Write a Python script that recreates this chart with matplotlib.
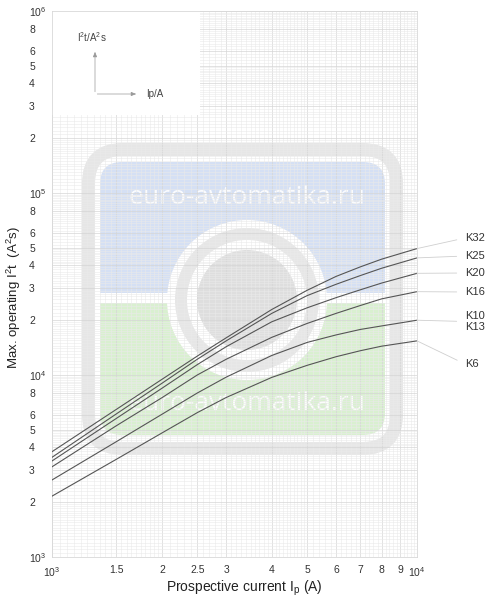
import numpy as np
import matplotlib
matplotlib.use("Agg")
import matplotlib.pyplot as plt
from matplotlib.patches import FancyBboxPatch, Rectangle, Circle
from matplotlib.ticker import NullFormatter

plt.rcParams['font.family'] = ['Liberation Sans', 'DejaVu Sans']
plt.rcParams['mathtext.fontset'] = 'custom'
plt.rcParams['mathtext.rm'] = 'Liberation Sans'
plt.rcParams['mathtext.it'] = 'Liberation Sans:italic'

# prospective current (A) and max. let-through I2t (A2s)
current = [1000, 1500, 2000, 2500, 3000, 4000, 5000, 6000, 7000, 8000, 10000]
k32 = [3790, 6470, 9460, 12700, 16000, 22900, 29200, 34800, 39300, 43300, 49500]
k25 = [3530, 6110, 9000, 12200, 15400, 21800, 27300, 31500, 35200, 38600, 44000]
k20 = [3370, 5770, 8450, 11400, 14300, 19600, 23400, 26600, 29400, 32000, 36200]
k16 = [3130, 5260, 7500, 10000, 12200, 16100, 19200, 21800, 24100, 26200, 28700]
k10 = [2650, 4300, 6080, 7960, 9730, 12800, 15100, 16600, 17800, 18600, 20000]
k6 = [2160, 3440, 4800, 6210, 7520, 9700, 11300, 12600, 13600, 14400, 15400]

curves = [k32, k25, k20, k16, k10, k6]
curve_names = ['K32', 'K25', 'K20', 'K16', 'K10\nK13', 'K6']
label_y_px = [238, 256, 273, 292, 321.5, 364]   # label positions, figure pixels from top

x_ticks = [1000, 1500, 2000, 2500, 3000, 4000, 5000, 6000, 7000, 8000, 9000, 10000]
x_labels = [r'$\mathregular{10^{3}}$', '1.5', '2', '2.5', '3', '4', '5', '6', '7', '8', '9',
            r'$\mathregular{10^{4}}$']
y_mult = [1, 2, 3, 4, 5, 6, 8]

W, H = 486, 600
fig = plt.figure(figsize=(W / 100, H / 100), dpi=100)

# watermark (pixel coordinates)
bg = fig.add_axes([0, 0, 1, 1], zorder=0)
bg.set_xlim(0, W)
bg.set_ylim(H, 0)
bg.axis('off')
blue = FancyBboxPatch((100, 162), 285, 273, boxstyle='round,pad=0,rounding_size=22',
                      fc='#d5e0f4', ec='none')
bg.add_patch(blue)
blue.set_clip_path(Rectangle((90, 150), 310, 143, transform=bg.transData))
green = FancyBboxPatch((100, 162), 285, 273, boxstyle='round,pad=0,rounding_size=22',
                       fc='#d9f0d0', ec='none')
bg.add_patch(green)
green.set_clip_path(Rectangle((90, 303), 310, 150, transform=bg.transData))
bg.add_patch(FancyBboxPatch((88.5, 149.5), 308, 299, boxstyle='round,pad=0,rounding_size=34',
                            fill=False, ec='#e6e6e6', lw=9.4))
for r, c in [(80, 'white'), (72, '#e6e6e6'), (60, 'white'), (50, '#dedede')]:
    bg.add_patch(Circle((247, 300), r, fc=c, ec='none'))
for ty in [197, 403]:
    bg.text(247, ty, 'euro-avtomatika.ru', color='white', fontsize=19, ha='center',
            va='center', family='Open Sans', alpha=0.9)

# main axes
ax = fig.add_axes([52 / W, 1 - 557 / H, 365 / W, 546 / H], zorder=1)
ax.set_facecolor('none')
ax.set_xscale('log')
ax.set_yscale('log')
ax.set_xlim(1000, 10000)
ax.set_ylim(1e3, 1e6)

fine = np.concatenate([np.arange(1, 2, 0.05), np.arange(2, 5, 0.1), np.arange(5, 10, 0.2)])
ax.set_xticks([f * 1000 for f in fine], minor=True)
ax.set_yticks([f * 10 ** d for d in range(3, 6) for f in fine], minor=True)
ax.xaxis.set_minor_formatter(NullFormatter())
ax.yaxis.set_minor_formatter(NullFormatter())
ax.set_xticks(x_ticks)
ax.set_xticklabels(x_labels)
y_ticks = [m * 10 ** d for d in range(3, 6) for m in y_mult] + [1e6]
y_labels = []
for t in y_ticks:
    e = int(np.floor(np.log10(t) + 1e-9))
    m = t / 10 ** e
    y_labels.append(r'$\mathregular{10^{%d}}$' % e if abs(m - 1) < 1e-9 else '%d' % round(m))
ax.set_yticks(y_ticks)
ax.set_yticklabels(y_labels)
ax.tick_params(which='both', length=0, colors='#333333', labelsize=7.5)
ax.tick_params(axis='y', pad=16.5)
ax.tick_params(axis='x', pad=6)
for lbl in ax.get_yticklabels():
    lbl.set_ha('left')
ax.set_axisbelow(True)
ax.grid(which='major', color='#d6d6d6', lw=0.5)
ax.grid(which='minor', color='#eaeaea', lw=0.4)
for s in ax.spines.values():
    s.set_color('#d8d8d8')
    s.set_linewidth(0.6)

for vals in curves:
    ax.plot(current, vals, color='#555555', lw=0.8, zorder=3)

# white inset with axis legend
def px(x, y):
    return (x - 52) / 365, (557 - y) / 546

x0, y0 = px(52, 115)
ax.add_patch(Rectangle((x0, y0), px(200, 0)[0] - x0, 1 - y0, transform=ax.transAxes,
                       fc='white', ec='none', zorder=1))
ax.annotate('', xy=px(95, 49), xytext=px(95, 94.5), xycoords='axes fraction',
            arrowprops=dict(arrowstyle='-|>,head_length=0.3,head_width=0.12', color='#999999', lw=0.5))
ax.annotate('', xy=px(139, 94), xytext=px(94.5, 94), xycoords='axes fraction',
            arrowprops=dict(arrowstyle='-|>,head_length=0.3,head_width=0.12', color='#999999', lw=0.5))
ax.text(*px(92, 37), r'$\mathregular{I^2t/A^2s}$', transform=ax.transAxes, ha='center',
        va='center', fontsize=7, color='#444444')
ax.text(*px(146, 94), 'Ip/A', transform=ax.transAxes, ha='left', va='center',
        fontsize=7, color='#444444')

# curve labels with leader lines
for vals, name, ly in zip(curves, curve_names, label_y_px):
    ax.annotate(name, xy=(current[-1], vals[-1]), xycoords='data',
                xytext=(465, H - ly), textcoords='figure pixels', ha='left', va='center',
                fontsize=8, color='#333333', annotation_clip=False,
                arrowprops=dict(arrowstyle='-', color='#cfcfcf', lw=0.6,
                                shrinkA=4, shrinkB=0, relpos=(0, 0.5)))

ax.set_xlabel(r'Prospective current $\mathregular{I_p}$ (A)', fontsize=10, color='#222222',
              va='center', ha='center')
ax.xaxis.set_label_coords(*px(244, 588))
ax.set_ylabel(r'Max. operating $\mathregular{I^2t}$  ($\mathregular{A^2s}$)', fontsize=9.5,
              color='#222222', va='center', ha='center')
ax.yaxis.set_label_coords(*px(14, 298))

fig.savefig('out.png', dpi=100)
